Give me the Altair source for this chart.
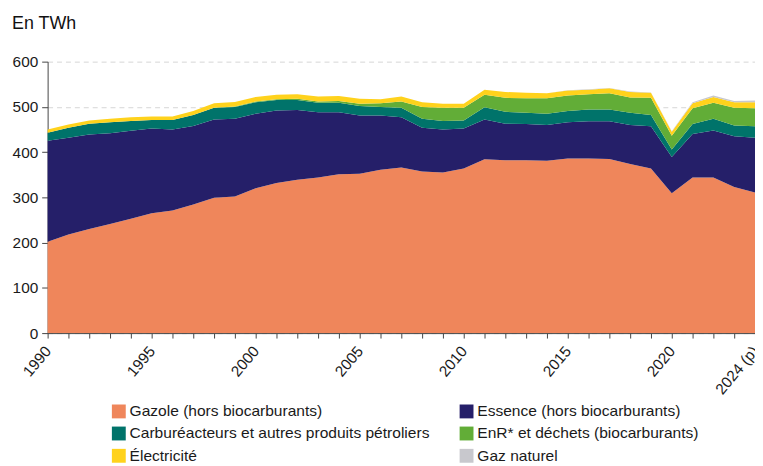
import altair as alt
import pandas as pd

years = list(range(1990, 2025))

categories = [
    "Gazole (hors biocarburants)",
    "Essence (hors biocarburants)",
    "Carburéacteurs et autres produits pétroliers",
    "EnR* et déchets (biocarburants)",
    "Électricité",
    "Gaz naturel",
]
colors = ["#EF865B", "#251F69", "#00736A", "#62AD37", "#FFD21C", "#C8C8CD"]

gazole = [202, 218, 230, 241, 253, 265, 271, 284, 299, 302, 320, 332, 339, 344, 351, 352, 361,
          366, 357, 355, 364, 384, 382, 382, 381, 386, 386, 385, 374, 364, 309, 344, 344, 323, 311]
essence = [223, 214, 209, 201, 194, 187, 179, 174, 173, 172, 165, 160, 154, 144, 137, 129, 120,
           111, 97, 95, 88, 88, 81, 80, 79, 80, 82, 83, 86, 93, 80, 96, 104, 112, 121]
carbureacteurs = [18, 22, 24, 24, 22, 19, 21, 24, 26, 26, 25, 23, 22, 21, 21, 21, 19,
                  21, 20, 19, 18, 27, 26, 25, 25, 25, 26, 26, 27, 25, 17, 22, 26, 24, 25]
enr = [0, 0, 0, 0, 0, 0, 0, 0, 0, 1, 2, 2, 3, 3, 4, 5, 8,
       14, 26, 29, 28, 28, 31, 32, 34, 34, 34, 36, 34, 38, 30, 35, 35, 39, 40]
electricite = [7, 7, 7, 8, 8, 8, 8, 9, 10, 10, 10, 10, 10, 11, 11, 11, 9,
               11, 10, 9, 9, 11, 13, 12, 11, 11, 10, 11, 12, 11, 9, 11, 13, 12, 13]
gaz = [0, 0, 0, 0, 0, 0, 0, 0, 0, 0, 0, 0, 0, 0, 0, 0, 0,
       0, 0, 0, 0, 0, 0, 0, 0, 1, 1, 1, 1, 1, 1, 2, 3, 3, 4]

series = [gazole, essence, carbureacteurs, enr, electricite, gaz]

rows = []
for i, yr in enumerate(years):
    for k, (cat, vals) in enumerate(zip(categories, series)):
        rows.append({"year": yr, "cat": cat, "value": vals[i], "order": k})
df = pd.DataFrame(rows)

FONT = "Liberation Sans, Arial, Helvetica, sans-serif"

chart = alt.Chart(df).mark_area(interpolate="linear").encode(
    x=alt.X(
        "year:Q",
        scale=alt.Scale(domain=[1990, 2024], nice=False, zero=False),
        axis=alt.Axis(
            values=years,
            labelExpr="datum.value == 2024 ? '2024 (p)' : (datum.value % 5 == 0 ? format(datum.value, 'd') : '')",
            title=None,
            labelAngle=-50,
            labelAlign="right",
            labelBaseline="middle",
            labelOverlap=False,
            labelFontSize=15.5,
            labelPadding=10,
            tickSize=5,
            grid=False,
            labelFlush=False,
        ),
    ),
    y=alt.Y(
        "value:Q",
        stack="zero",
        scale=alt.Scale(domain=[0, 600], nice=False),
        axis=alt.Axis(
            values=[0, 100, 200, 300, 400, 500, 600],
            title=None,
            grid=True,
            gridDash=[5, 4],
            gridColor="#D6D6D6",
            labelFontSize=15.5,
            labelPadding=4,
            tickSize=6,
        ),
    ),
    color=alt.Color(
        "cat:N",
        scale=alt.Scale(domain=categories, range=colors),
        legend=alt.Legend(
            title=None,
            orient="none",
            direction="horizontal",
            legendX=64,
            legendY=345,
            columns=2,
            symbolType="square",
            symbolSize=196,
            symbolStrokeWidth=0,
            symbolOpacity=1,
            labelFontSize=15.7,
            labelOffset=3,
            columnPadding=29,
            rowPadding=5.5,
            padding=0,
            labelLimit=400,
        ),
    ),
    order=alt.Order("order:Q"),
).properties(
    width=714,
    height=274,
    title=alt.TitleParams(
        "En TWh",
        anchor="start",
        fontSize=18,
        fontWeight="normal",
        font=FONT,
        color="#111111",
        offset=22,
    ),
    autosize="none",
    padding={"left": 40, "top": 52, "right": 0, "bottom": 132},
).configure(
    font=FONT,
).configure_view(
    stroke=None,
).configure_axis(
    labelFont=FONT,
    labelColor="#1a1a1a",
    domainColor="#444444",
    tickColor="#444444",
).configure_legend(
    labelFont=FONT,
    labelColor="#1a1a1a",
)

chart.save("out.html", embed_options={"renderer": "svg", "actions": False})
